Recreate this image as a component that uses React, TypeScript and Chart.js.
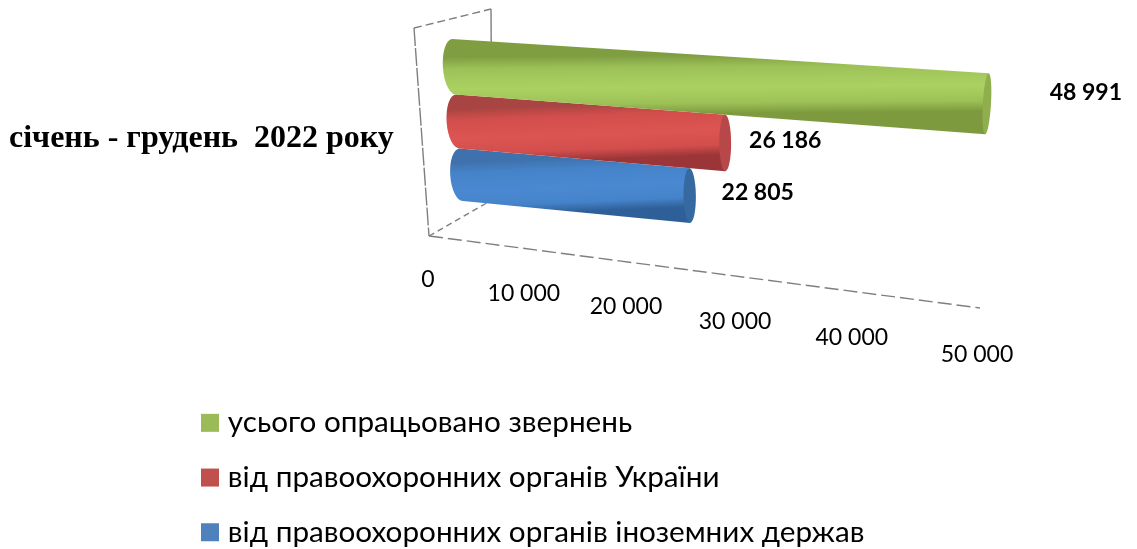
import React, { useEffect, useRef } from "react";
import { Chart, registerables } from "chart.js";

Chart.register(...registerables);

const categories = ["січень - грудень  2022 року"];
const seriesNames = [
  "усього опрацьовано звернень",
  "від правоохоронних органів України",
  "від правоохоронних органів іноземних держав",
];
const totalProcessed = [48991];
const fromUkraine = [26186];
const fromForeign = [22805];
const axisTicks = [0, 10000, 20000, 30000, 40000, 50000];
const swatchColors = ["#9BBB59", "#C0504D", "#4F81BD"];
const shades = [
  ["#7f9e42", "#9dc157", "#abd162", "#7d9b3e"],
  ["#a84442", "#d24e4c", "#dc5552", "#9c3538"],
  ["#3f72ad", "#4583c9", "#4a89d2", "#2f5f98"],
];
const faceShades = ["#8fae4e", "#b8474a", "#36699f"];
const labelOffsets = [
  [99, -11],
  [60, -3],
  [68, -3],
];

const fmt = (v: number) => String(v).replace(/\B(?=(\d{3})+$)/g, " ");

type P = [number, number];
// perspective plane the bars lie on: unit square -> picture quad
const quad: { a: P; b: P; c: P; d: P } = {
  a: [452, 39],
  b: [1001, 74],
  c: [990, 252],
  d: [463, 201],
};
function makeProjection() {
  const { a: p00, b: p10, c: p11, d: p01 } = quad;
  const dx1 = p10[0] - p11[0], dx2 = p01[0] - p11[0], sx = p00[0] - p10[0] + p11[0] - p01[0];
  const dy1 = p10[1] - p11[1], dy2 = p01[1] - p11[1], sy = p00[1] - p10[1] + p11[1] - p01[1];
  const det = dx1 * dy2 - dx2 * dy1;
  const g = (sx * dy2 - dx2 * sy) / det;
  const h = (dx1 * sy - sx * dy1) / det;
  const a = p10[0] - p00[0] + g * p10[0], b = p01[0] - p00[0] + h * p01[0], c = p00[0];
  const d = p10[1] - p00[1] + g * p10[1], e = p01[1] - p00[1] + h * p01[1], f = p00[1];
  return (u: number, v: number): P => {
    const w = g * u + h * v + 1;
    return [(a * u + b * v + c) / w, (d * u + e * v + f) / w];
  };
}
const project = makeProjection();

// floor front edge and the tick label line, both foreshortened the same way
const persp = 0.154;
const along = (s: P, t: P, u: number): P => {
  const k = (u * (1 - persp)) / (1 - persp * u);
  return [s[0] + (t[0] - s[0]) * k, s[1] + (t[1] - s[1]) * k];
};
const floorStart: P = [429, 236];
const floorEnd: P = [980, 308];
const labelStart: P = [428, 280];
const labelEnd: P = [977, 355];

function drawCylinder(ctx: CanvasRenderingContext2D, u: number, v0: number, v1: number, idx: number) {
  const tl = project(0, v0), tr = project(u, v0), br = project(u, v1), bl = project(0, v1);
  const rxL = 11;
  const rxR = 8 - 4 * u;
  const ellipse = (p: P, q: P, rx: number, s: number, e: number, ccw: boolean) => {
    const cx = (p[0] + q[0]) / 2, cy = (p[1] + q[1]) / 2;
    const ry = Math.hypot(q[0] - p[0], q[1] - p[1]) / 2;
    const rot = Math.atan2(q[1] - p[1], q[0] - p[0]) - Math.PI / 2;
    ctx.ellipse(cx, cy, rx, ry, rot, s, e, ccw);
  };
  const mid0 = project(u / 2, v0), mid1 = project(u / 2, v1);
  const grad = ctx.createLinearGradient(mid0[0], mid0[1], mid1[0], mid1[1]);
  const s = shades[idx];
  grad.addColorStop(0, s[0]);
  grad.addColorStop(0.2, s[1]);
  grad.addColorStop(0.55, s[2]);
  grad.addColorStop(0.82, s[1]);
  grad.addColorStop(1, s[3]);
  ctx.save();
  ctx.fillStyle = grad;
  ctx.beginPath();
  ctx.moveTo(tl[0], tl[1]);
  ctx.lineTo(tr[0], tr[1]);
  ctx.lineTo(br[0], br[1]);
  ctx.lineTo(bl[0], bl[1]);
  ellipse(tl, bl, rxL, Math.PI / 2, (3 * Math.PI) / 2, false);
  ctx.closePath();
  ctx.fill();
  ctx.fillStyle = faceShades[idx];
  ctx.beginPath();
  ellipse(tr, br, rxR, 0, Math.PI * 2, false);
  ctx.fill();
  ctx.restore();
}

const cylinderPlugin = {
  id: "cylinders",
  afterLayout(chart: any) {
    const legend = chart.legend;
    const pad = legend.options.labels.padding;
    legend.left = 207 - pad;
    legend.top = 423 - 15 - pad;
  },
  beforeDraw(chart: any) {
    const ctx: CanvasRenderingContext2D = chart.ctx;
    const xs = chart.scales.x;
    ctx.save();
    ctx.strokeStyle = "#7f7f7f";
    ctx.lineWidth = 1.4;
    const seg = (p: P, q: P, dash: number[]) => {
      ctx.setLineDash(dash);
      ctx.beginPath();
      ctx.moveTo(p[0], p[1]);
      ctx.lineTo(q[0], q[1]);
      ctx.stroke();
    };
    const wallTopFront: P = [414, 28];
    const wallTopBack: P = [491, 9];
    const wallFloorBack: P = [492, 200];
    seg(wallTopFront, wallTopBack, [8, 4]);
    seg(wallTopFront, floorStart, [18, 2]);
    seg(wallTopBack, wallFloorBack, []);
    seg(floorStart, wallFloorBack, [6, 4]);
    seg(floorStart, along(floorStart, floorEnd, 1), [14, 5]);
    ctx.restore();

    ctx.save();
    ctx.fillStyle = "#000";
    ctx.font = "23px Lato";
    ctx.textAlign = "center";
    ctx.textBaseline = "middle";
    xs.ticks.forEach((t: any) => {
      const u = (xs.getPixelForValue(t.value) - xs.left) / xs.width;
      const p = along(labelStart, labelEnd, u);
      ctx.fillText(String(t.label), p[0], p[1]);
    });
    ctx.restore();
  },
  beforeDatasetDraw(chart: any, args: any) {
    const ctx: CanvasRenderingContext2D = chart.ctx;
    const area = chart.chartArea;
    const i = args.index;
    const bar = args.meta.data[0];
    const u = (bar.x - area.left) / (area.right - area.left);
    const v0 = (bar.y - bar.height / 2 - area.top) / (area.bottom - area.top);
    const v1 = (bar.y + bar.height / 2 - area.top) / (area.bottom - area.top);
    drawCylinder(ctx, u, v0, v1, i);
    const end = project(u, (v0 + v1) / 2);
    ctx.save();
    ctx.fillStyle = "#000";
    ctx.font = "bold 23px Lato";
    ctx.textAlign = "center";
    ctx.textBaseline = "middle";
    const off = labelOffsets[i];
    ctx.fillText(fmt(chart.data.datasets[i].data[0]), end[0] + off[0], end[1] + off[1]);
    ctx.restore();
    return false;
  },
};

export default function App() {
  const ref = useRef<HTMLCanvasElement>(null);
  useEffect(() => {
    document.body.style.margin = "0";
    const seriesValues = [totalProcessed, fromUkraine, fromForeign];
    const chart = new Chart(ref.current as HTMLCanvasElement, {
      type: "bar",
      data: {
        labels: categories,
        datasets: seriesNames.map((name, i) => ({
          label: name,
          data: seriesValues[i],
          backgroundColor: swatchColors[i],
          borderWidth: 0,
          categoryPercentage: 1,
          barPercentage: 1,
        })),
      },
      options: {
        indexAxis: "y",
        responsive: false,
        animation: false,
        devicePixelRatio: 1,
        layout: { padding: { top: 37, left: 1, right: 0, bottom: 0 } },
        scales: {
          x: {
            type: "linear",
            min: axisTicks[0],
            max: axisTicks[axisTicks.length - 1],
            afterFit: (s: any) => {
              s.height = 208;
            },
            grid: { display: false },
            border: { display: false },
            ticks: { display: false, stepSize: 10000, callback: (v: any) => fmt(Number(v)) },
          },
          y: {
            grid: { display: false },
            border: { display: false },
            ticks: { color: "#000", padding: 8, font: { family: "'Liberation Serif'", size: 32, weight: "bold" } },
          },
        },
        plugins: {
          tooltip: { enabled: false },
          legend: {
            position: "bottom",
            align: "start",
            maxHeight: 100,
            labels: {
              usePointStyle: true,
              pointStyle: "rect",
              boxWidth: 6,
              boxHeight: 18,
              padding: 25,
              color: "#000",
              font: { family: "Lato", size: 29.7 },
            },
          },
        },
      } as any,
      plugins: [cylinderPlugin as any],
    });
    return () => chart.destroy();
  }, []);
  return (
    <div style={{ width: 1137, height: 549 }}>
      <canvas ref={ref} width={1137} height={549} style={{ display: "block" }} />
    </div>
  );
}
